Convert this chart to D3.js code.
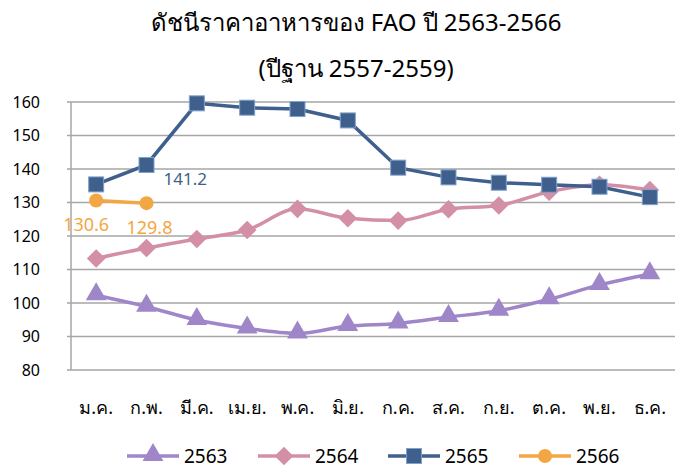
<!DOCTYPE html>
<meta charset="utf-8">
<script src="https://cdn.jsdelivr.net/npm/d3@7"></script>
<style>
body { margin: 0; background: #fff; }
text { font-family: "Noto Sans", "DejaVu Sans", sans-serif; fill: #000; }
.grid line { stroke: #a6a6a6; stroke-width: 1.5px; }
</style>
<body>
<script>

var months = ["ม.ค.", "ก.พ.", "มี.ค.", "เม.ย.", "พ.ค.", "มิ.ย.", "ก.ค.", "ส.ค.", "ก.ย.", "ต.ค.", "พ.ย.", "ธ.ค."];
var yTicks = [80, 90, 100, 110, 120, 130, 140, 150, 160];

var s2563 = [102.3, 98.9, 94.9, 92.4, 90.9, 93.1, 93.9, 95.8, 97.7, 101.1, 105.4, 108.6];
var s2564 = [113.3, 116.4, 119.1, 121.8, 128.1, 125.3, 124.6, 128.0, 129.1, 133.2, 135.3, 133.7];
var s2565 = [135.4, 141.2, 159.6, 158.3, 157.9, 154.5, 140.4, 137.5, 135.9, 135.3, 134.7, 131.6];
var s2566 = [130.6, 129.8];

var series = [
  {name: "2563", values: s2563, color: "#9f86c9", marker: "triangle", smooth: true},
  {name: "2564", values: s2564, color: "#d38fa6", marker: "diamond", smooth: true},
  {name: "2565", values: s2565, color: "#3f5f8c", marker: "square", smooth: false},
  {name: "2566", values: s2566, color: "#f3a644", marker: "circle", smooth: false}
];

var width = 684, height = 469;
var margin = {left: 71, right: 9, top: 102, bottom: 99};

var svg = d3.select("body").append("svg")
    .attr("width", width)
    .attr("height", height);

var x = d3.scaleBand()
    .domain(months)
    .range([margin.left, width - margin.right]);

var y = d3.scaleLinear()
    .domain([80, 160])
    .range([height - margin.bottom, margin.top]);

// title
svg.append("text")
    .attr("x", 356).attr("y", 31)
    .attr("text-anchor", "middle")
    .style("font-size", "24px")
    .text("ดัชนีราคาอาหารของ FAO ปี 2563-2566");
svg.append("text")
    .attr("x", 356).attr("y", 77)
    .attr("text-anchor", "middle")
    .style("font-size", "24px")
    .text("(ปีฐาน 2557-2559)");

// gridlines
svg.append("g").attr("class", "grid")
  .selectAll("line")
  .data(yTicks)
  .enter().append("line")
    .attr("x1", margin.left - 4)
    .attr("x2", width - margin.right)
    .attr("y1", function(d) { return y(d); })
    .attr("y2", function(d) { return y(d); });

svg.append("line")
    .attr("x1", margin.left).attr("x2", margin.left)
    .attr("y1", y(160)).attr("y2", y(80))
    .style("stroke", "#a6a6a6").style("stroke-width", 1.5);

// y labels
svg.append("g")
  .selectAll("text")
  .data(yTicks)
  .enter().append("text")
    .attr("x", 40)
    .attr("y", function(d) { return y(d); })
    .attr("dy", "0.35em")
    .attr("text-anchor", "end")
    .style("font-size", "16px")
    .text(function(d) { return d; });

// x labels
svg.append("g")
  .selectAll("text")
  .data(months)
  .enter().append("text")
    .attr("x", function(d) { return x(d) + x.bandwidth() / 2; })
    .attr("y", 414)
    .attr("text-anchor", "middle")
    .style("font-size", "18px")
    .text(function(d) { return d; });

function drawMarker(g, type, color, size) {
  if (type == "triangle") {
    g.append("path").attr("d", d3.symbol().type(d3.symbolTriangle).size(size * 1.1)())
      .attr("transform", "translate(0,-1)")
      .style("fill", color);
  } else if (type == "diamond") {
    g.append("path").attr("d", d3.symbol().type(d3.symbolDiamond2).size(size * 1.3)())
      .style("fill", color);
  } else if (type == "square") {
    g.append("rect").attr("x", -7.5).attr("y", -7.5).attr("width", 15).attr("height", 15)
      .style("fill", color).style("stroke", "#7fa2cc").style("stroke-width", 1);
  } else {
    g.append("circle").attr("r", 7).style("fill", color);
  }
}

series.forEach(function(s) {
  var line = d3.line()
      .x(function(d, i) { return x(months[i]) + x.bandwidth() / 2; })
      .y(function(d) { return y(d); })
      .curve(s.smooth ? d3.curveMonotoneX : d3.curveLinear);

  svg.append("path")
      .datum(s.values)
      .attr("d", line)
      .style("fill", "none")
      .style("stroke", s.color)
      .style("stroke-width", 3.5);

  s.values.forEach(function(v, i) {
    var g = svg.append("g")
        .attr("transform", "translate(" + (x(months[i]) + x.bandwidth() / 2) + "," + y(v) + ")");
    drawMarker(g, s.marker, s.color, 170);
  });
});

// data labels
svg.append("text")
    .attr("x", x(months[1]) + x.bandwidth() / 2 + 17)
    .attr("y", y(s2565[1]) + 20)
    .style("font-size", "17px")
    .style("fill", "#3f5f8c")
    .text(s2565[1].toFixed(1));

s2566.forEach(function(v, i) {
  svg.append("text")
      .attr("x", x(months[i]) + x.bandwidth() / 2 + (i == 0 ? -10 : 3))
      .attr("y", y(v) + 31)
      .attr("text-anchor", "middle")
      .style("font-size", "18px")
      .style("fill", "#f3a644")
      .text(v.toFixed(1));
});

// legend
var legendX = [127, 258, 388, 519];
series.forEach(function(s, i) {
  var g = svg.append("g").attr("transform", "translate(" + legendX[i] + ",456)");
  g.append("line").attr("x1", 0).attr("x2", 52)
    .style("stroke", s.color).style("stroke-width", 3.5);
  var m = g.append("g").attr("transform", "translate(26,0)");
  drawMarker(m, s.marker, s.color, 170);
  g.append("text").attr("x", 57).attr("y", 0).attr("dy", "0.35em")
    .style("font-size", "19px")
    .text(s.name);
});

</script>
</body>
